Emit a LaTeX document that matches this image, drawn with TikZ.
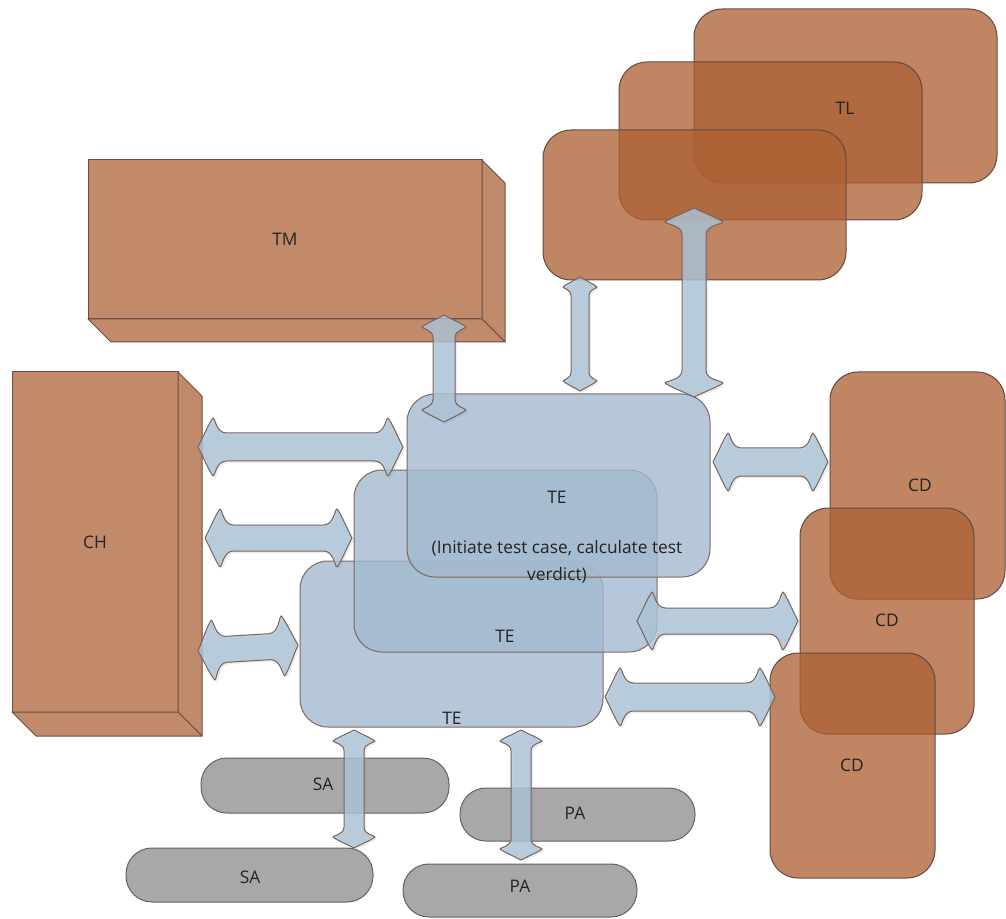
\documentclass[tikz,border=0pt]{standalone}
\usepackage{fontspec}
\setmainfont{Open Sans}
\usetikzlibrary{shadows}

\definecolor{boxfill}{RGB}{192,138,107}
\definecolor{boxline}{RGB}{107,78,64}
\definecolor{tlfill}{RGB}{172,96,51}
\definecolor{tlline}{RGB}{100,72,60}
\definecolor{tefill}{RGB}{162,185,206}
\definecolor{teline}{RGB}{125,105,98}
\definecolor{arrfill}{RGB}{172,196,216}
\definecolor{arrline}{RGB}{120,100,95}
\definecolor{pillfill}{RGB}{168,168,168}
\definecolor{pillline}{RGB}{110,95,90}
\definecolor{txt}{RGB}{35,35,35}

\tikzset{
  size/.style 2 args={minimum width={#1*0.75pt}, minimum height={#2*0.75pt}},
  every node/.style={inner sep=0pt, outer sep=0pt, text=txt, font=\fontsize{13}{15}\selectfont},
  solid3d/.style={draw=boxline, fill=boxfill, line width=0.75pt, line join=round},
  orangebox/.style={draw=tlline, fill=tlfill, fill opacity=0.76, rounded corners=21pt, line width=0.75pt},
  bluebox/.style={draw=teline, fill=tefill, fill opacity=0.8, rounded corners=21pt, line width=0.75pt},
  pill/.style={draw=pillline, fill=pillfill, rounded corners=19.5pt, line width=0.75pt},
  flowarrow/.style={draw=arrline, fill=arrfill, fill opacity=0.8, line width=0.75pt, line join=round,
    drop shadow={shadow xshift=1.5pt, shadow yshift=-1.5pt, opacity=0.15}},
  lbl/.style={text=txt}
}

% Double-headed block arrow between two named points:
% #1,#2 end points, #3 shaft half width, #4 head half width, #5 head length (all in px)
\newcommand\flowlink[5]{%
  \path (#1); \pgfgetlastxy{\fax}{\fay}%
  \path (#2); \pgfgetlastxy{\fbx}{\fby}%
  \pgfmathsetmacro\fang{atan2(\fby-\fay,\fbx-\fax)}%
  \pgfmathsetmacro\flen{veclen(\fbx-\fax,\fby-\fay)}%
  \pgfmathsetmacro\fs{#3*0.75}%
  \pgfmathsetmacro\fh{#4*0.75}%
  \pgfmathsetmacro\fl{#5*0.75}%
  \begin{scope}[shift={(#1)}, rotate=\fang, x=1pt, y=1pt]
    \path[flowarrow] (0,0)
      .. controls ({0.45*\fl},{0.45*\fh}) and ({0.75*\fl},{0.85*\fh}) .. ({\fl},{\fh})
      .. controls ({1.15*\fl},{\fh}) and ({1.2*\fl},{\fs}) .. ({1.9*\fl},{\fs})
      -- ({\flen-1.9*\fl},{\fs})
      .. controls ({\flen-1.2*\fl},{\fs}) and ({\flen-1.15*\fl},{\fh}) .. ({\flen-\fl},{\fh})
      .. controls ({\flen-0.75*\fl},{0.85*\fh}) and ({\flen-0.45*\fl},{0.45*\fh}) .. ({\flen},0)
      .. controls ({\flen-0.45*\fl},{-0.45*\fh}) and ({\flen-0.75*\fl},{-0.85*\fh}) .. ({\flen-\fl},{-\fh})
      .. controls ({\flen-1.15*\fl},{-\fh}) and ({\flen-1.2*\fl},{-\fs}) .. ({\flen-1.9*\fl},{-\fs})
      -- ({1.9*\fl},{-\fs})
      .. controls ({1.2*\fl},{-\fs}) and ({1.15*\fl},{-\fh}) .. ({\fl},{-\fh})
      .. controls ({0.75*\fl},{-0.85*\fh}) and ({0.45*\fl},{-0.45*\fh}) .. (0,0)
      -- cycle;
  \end{scope}}

\begin{document}
\begin{tikzpicture}[x=0.75pt, y=-0.75pt]
\useasboundingbox (0,0) rectangle (1006,919);

% ---- solid 3D blocks ----
\node[solid3d, size={394}{159}] (tm) at (285,239.5) {TM};
\draw[solid3d] (tm.north east) -- ++(23,23) -- ++(0,159) -- (tm.south east) -- cycle;
\draw[solid3d] (tm.south west) -- ++(23,23) -- ++(394,0) -- (tm.south east) -- cycle;

\node[solid3d, size={166}{340}] (ch) at (95,542) {CH};
\draw[solid3d] (ch.north east) -- ++(24,24) -- ++(0,340) -- (ch.south east) -- cycle;
\draw[solid3d] (ch.south west) -- ++(24,24) -- ++(166,0) -- (ch.south east) -- cycle;

% ---- TL stack ----
\node[orangebox, size={303}{174}] (tl3) at (845.5,96) {};
\node[orangebox, size={303}{158}] (tl2) at (770.5,141) {};
\node[orangebox, size={303}{150}] (tl1) at (694.5,205) {};

% ---- CD stack ----
\node[orangebox, size={175}{227}] (cd1) at (917.5,485.5) {};
\node[orangebox, size={174}{226}] (cd2) at (887,621) {};
\node[orangebox, size={165}{225}] (cd3) at (852.5,765.5) {};

% ---- TE stack ----
\node[bluebox, size={303}{166}] (te3) at (451.5,644) {};
\node[bluebox, size={303}{182}] (te2) at (505.5,561) {};
\node[bluebox, size={303}{183}] (te1) at (558.5,485.5) {};

% ---- SA / PA ----
\node[pill, size={248}{55}] (sa1) at (325,785.5) {};
\node[pill, size={247}{54}] (sa2) at (249.5,875) {};
\node[pill, size={235}{53}] (pa1) at (577.5,814.5) {};
\node[pill, size={234}{53}] (pa2) at (520,890.5) {};

% ---- connector end points ----
\coordinate (tm-a) at (444,315);   \coordinate (tm-b) at (444,422);
\coordinate (tl1-a) at (580,277);  \coordinate (tl1-b) at (580,391);
\coordinate (tl2-a) at (694,208);  \coordinate (tl2-b) at (694,397);
\coordinate (ch1-a) at (198,447);  \coordinate (ch1-b) at (403,447);
\coordinate (ch2-a) at (205,538);  \coordinate (ch2-b) at (352,538);
\coordinate (ch3-a) at (198,651);  \coordinate (ch3-b) at (298,645);
\coordinate (cd1-a) at (713,462);  \coordinate (cd1-b) at (828,462);
\coordinate (cd2-a) at (637,621);  \coordinate (cd2-b) at (798,621);
\coordinate (cd3-a) at (605,697);  \coordinate (cd3-b) at (775,697);
\coordinate (sa-a) at (354,730);   \coordinate (sa-b) at (354,848);
\coordinate (pa-a) at (521,730);   \coordinate (pa-b) at (521,860);

% ---- connectors ----
\flowlink{tm-a}{tm-b}{11}{22}{12}
\flowlink{tl1-a}{tl1-b}{9}{17}{10}
\flowlink{tl2-a}{tl2-b}{12}{29}{14}
\flowlink{ch1-a}{ch1-b}{14}{29}{15}
\flowlink{ch2-a}{ch2-b}{13}{29}{15}
\flowlink{ch3-a}{ch3-b}{13}{30}{15}
\flowlink{cd1-a}{cd1-b}{14}{29}{15}
\flowlink{cd2-a}{cd2-b}{13}{29}{15}
\flowlink{cd3-a}{cd3-b}{14}{29}{15}
\flowlink{sa-a}{sa-b}{10}{21}{11}
\flowlink{pa-a}{pa-b}{10}{21}{11}

% ---- labels ----
\node[lbl] (tl-text) at (845,108) {TL};
\node[lbl] (cd1-text) at (920,485) {CD};
\node[lbl] (cd2-text) at (887,620) {CD};
\node[lbl] (cd3-text) at (852,765) {CD};
\node[lbl] (te1-text) at (557,497) {TE};
\node[lbl, align=center, font=\fontsize{13}{20.25}\selectfont] (te1-note) at (557,561.5)
  {(Initiate test case, calculate test\\verdict)};
\node[lbl] (te2-text) at (505,636) {TE};
\node[lbl] (te3-text) at (452,718) {TE};
\node[lbl] (sa1-text) at (323,784) {SA};
\node[lbl] (sa2-text) at (250,877) {SA};
\node[lbl] (pa1-text) at (575,813) {PA};
\node[lbl] (pa2-text) at (520,886) {PA};
\end{tikzpicture}
\end{document}
